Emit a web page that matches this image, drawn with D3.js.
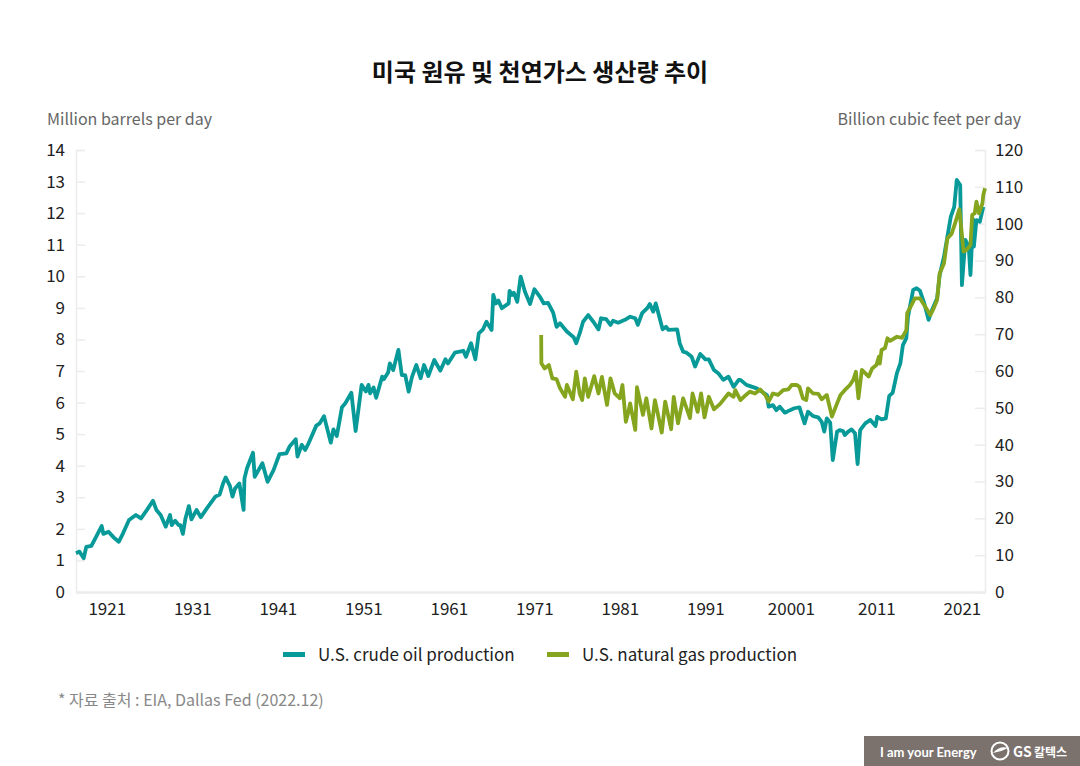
<!DOCTYPE html>
<html><head><meta charset="utf-8">
<script src="https://cdn.jsdelivr.net/npm/d3@7"></script>
<style>
html,body{margin:0;padding:0;background:#fff;}
svg{display:block;font-family:"Noto Sans CJK KR","Noto Sans",sans-serif;}
</style></head>
<body><svg id="c" width="1080" height="766"></svg>
<script>
const title = "미국 원유 및 천연가스 생산량 추이";
const leftAxisTitle = "Million barrels per day";
const rightAxisTitle = "Billion cubic feet per day";
const source = "* 자료 출처 : EIA, Dallas Fed (2022.12)";
const seriesNames = ["U.S. crude oil production", "U.S. natural gas production"];
const xTickValues = [1921,1931,1941,1951,1961,1971,1981,1991,2001,2011,2021];
const xTickLabels = ["1921","1931","1941","1951","1961","1971","1981","1991","20001","2011","2021"];
const leftTicks = [0,1,2,3,4,5,6,7,8,9,10,11,12,13,14];
const rightTicks = [0,10,20,30,40,50,60,70,80,90,100,110,120];

const oilYears = [1917.4,1917.8,1918.3,1918.6,1919.2,1920.4,1920.6,1921.2,1921.8,1922.4,1922.9,1923.6,1924.4,1925.0,1925.7,1926.4,1926.8,1927.3,1927.9,1928.4,1928.6,1929.0,1929.4,1929.6,1929.9,1930.2,1930.6,1930.9,1931.5,1932.0,1932.7,1933.7,1934.2,1934.6,1934.9,1935.4,1935.7,1936.0,1936.5,1937.0,1937.1,1937.4,1938.1,1938.3,1939.2,1939.8,1940.5,1941.2,1942.0,1942.4,1943.1,1943.3,1943.8,1944.2,1944.6,1945.5,1945.9,1946.4,1947.2,1947.5,1947.9,1948.5,1948.9,1949.6,1950.1,1950.8,1951.3,1951.6,1951.8,1952.2,1952.5,1953.2,1953.4,1953.9,1954.1,1954.5,1955.1,1955.5,1955.9,1956.3,1956.7,1957.2,1957.7,1958.1,1958.6,1959.3,1960.0,1960.6,1960.9,1961.7,1962.7,1963.0,1963.6,1964.1,1964.5,1965.0,1965.4,1966.0,1966.2,1966.5,1966.8,1967.2,1968.0,1968.1,1968.4,1968.6,1969.0,1969.4,1969.9,1970.5,1971.0,1971.7,1972.1,1972.6,1973.2,1973.6,1974.0,1974.8,1975.6,1975.9,1976.3,1976.7,1977.3,1977.9,1978.5,1978.8,1979.4,1979.9,1980.2,1980.8,1981.6,1982.2,1982.8,1983.1,1983.6,1984.2,1984.5,1984.9,1985.2,1986.0,1986.4,1986.7,1987.7,1988.0,1988.4,1988.8,1989.4,1989.8,1990.4,1991.0,1991.4,1992.0,1992.5,1993.1,1993.7,1994.3,1994.9,1995.1,1995.8,1997.0,1998.2,1998.4,1998.9,1999.3,1999.7,2000.3,2000.9,2001.4,2002.0,2002.6,2003.0,2003.6,2004.2,2004.6,2004.9,2005.2,2005.6,2005.9,2006.4,2006.7,2007.1,2007.3,2007.7,2008.1,2008.5,2008.8,2009.1,2009.7,2010.3,2010.9,2011.1,2011.6,2012.1,2012.5,2012.9,2013.4,2013.8,2014.1,2014.5,2014.7,2015.3,2015.7,2016.1,2016.6,2017.1,2017.5,2018.1,2018.4,2018.9,2019.3,2019.7,2020.1,2020.4,2020.8,2021.0,2021.4,2021.8,2022.0,2022.3,2022.4,2022.7,2023.1,2023.5];
const oilValues = [1.23,1.28,1.07,1.43,1.46,2.09,1.84,1.91,1.73,1.59,1.86,2.28,2.44,2.33,2.60,2.89,2.60,2.44,2.07,2.44,2.12,2.26,2.12,2.12,1.84,2.33,2.72,2.30,2.60,2.37,2.65,3.02,3.09,3.44,3.63,3.36,3.02,3.28,3.44,2.60,3.60,3.92,4.41,3.65,4.08,3.49,3.86,4.37,4.39,4.62,4.84,4.29,4.66,4.50,4.71,5.27,5.34,5.57,4.73,5.15,4.94,5.85,5.98,6.31,5.10,6.56,6.35,6.56,6.29,6.48,6.15,6.82,6.74,6.95,7.24,7.03,7.67,6.87,6.87,6.35,6.82,7.19,6.77,7.19,6.84,7.35,7.01,7.37,7.24,7.58,7.64,7.45,7.88,7.37,8.19,8.32,8.56,8.30,9.41,9.14,9.23,8.99,9.14,9.54,9.41,9.48,9.19,9.99,9.51,9.12,9.59,9.33,9.14,9.16,8.85,8.40,8.51,8.25,8.07,7.88,8.19,8.56,8.77,8.56,8.32,8.67,8.64,8.46,8.59,8.53,8.62,8.72,8.67,8.46,8.83,8.99,9.12,8.88,9.14,8.32,8.40,8.30,8.32,7.88,7.61,7.58,7.45,7.14,7.54,7.37,7.37,7.03,6.93,6.72,6.82,6.50,6.72,6.72,6.56,6.45,6.24,5.87,5.92,5.76,5.87,5.68,5.76,5.82,5.85,5.34,5.71,5.57,5.53,5.39,5.08,5.50,5.36,4.18,5.08,5.13,5.10,4.97,5.08,5.15,5.03,4.05,5.13,5.34,5.45,5.26,5.55,5.47,5.50,6.21,6.31,6.93,7.24,7.82,8.04,8.72,9.57,9.62,9.54,9.14,8.62,8.93,9.30,10.04,10.62,11.25,11.89,12.20,13.05,12.89,9.72,11.15,10.94,10.04,11.81,10.94,11.78,11.73,12.20];

const gasYears = [1971.8,1971.82,1972.2,1972.7,1973.1,1973.6,1974.0,1974.6,1974.8,1975.3,1975.5,1975.9,1976.3,1976.6,1976.9,1977.3,1978.0,1978.5,1978.9,1979.5,1979.9,1980.4,1981.0,1981.3,1981.7,1982.0,1982.2,1982.8,1983.0,1983.7,1984.1,1984.7,1985.1,1985.9,1986.3,1987.0,1987.3,1987.8,1988.4,1989.2,1989.5,1990.1,1990.5,1990.9,1991.4,1992.0,1992.7,1993.7,1994.3,1994.5,1995.1,1995.5,1996.2,1996.8,1997.4,1998.0,1998.4,1998.9,1999.5,2000.1,2000.7,2001.1,2001.7,2002.0,2002.4,2002.8,2003.0,2003.6,2004.2,2004.6,2005.2,2005.8,2006.4,2006.8,2007.3,2007.9,2008.3,2008.6,2008.9,2009.3,2010.1,2010.5,2011.0,2011.3,2011.4,2011.6,2012.0,2012.3,2012.6,2013.4,2014.0,2014.5,2014.6,2015.1,2015.5,2016.1,2016.7,2017.3,2017.7,2018.1,2018.4,2018.9,2019.3,2019.8,2020.2,2020.7,2021.2,2021.6,2022.0,2022.2,2022.5,2022.7,2023.0,2023.4,2023.5,2023.7];
const gasValues = [69.8,62.1,60.7,61.6,58.0,57.8,55.3,53.0,56.2,53.5,52.3,59.8,53.9,52.1,58.0,53.0,58.6,53.9,58.4,50.8,58.0,53.9,52.6,56.2,46.2,48.9,51.2,44.0,55.6,48.1,52.6,44.4,52.1,43.3,51.7,44.2,53.0,45.8,52.6,47.2,53.9,48.9,53.9,47.4,53.0,49.6,51.0,53.9,53.0,54.8,52.1,53.0,54.4,53.9,55.0,53.5,51.7,53.9,53.5,54.8,55.0,56.2,56.2,55.7,52.6,52.1,55.3,53.9,53.8,52.3,53.5,47.6,51.2,53.5,54.8,56.2,57.6,59.8,52.6,60.3,58.5,60.7,61.6,63.9,62.0,65.7,66.2,68.9,68.2,69.3,69.0,71.1,75.7,77.9,79.7,79.7,77.5,75.2,77.0,79.3,86.5,89.2,96.0,97.3,100.1,103.9,92.4,93.0,94.2,102.4,102.8,106.0,102.8,105.5,107.8,109.6];

const colors = ["#079a98", "#86a51f"];

const svg = d3.select("#c");
const L = 76, R = 985, T = 150, B = 592;
const x = d3.scaleLinear().domain([1917.4, 2023.7]).range([L, R]);
const yL = d3.scaleLinear().domain([0, 14]).range([B, T]);
const yR = d3.scaleLinear().domain([0, 120]).range([B, T]);

// title
svg.append("text").attr("x", 540).attr("y", 81).attr("text-anchor", "middle")
  .attr("font-size", 24).attr("font-weight", 700).attr("fill", "#111").text(title);
svg.append("text").attr("x", 47).attr("y", 125).attr("font-size", 16).attr("fill", "#666").text(leftAxisTitle);
svg.append("text").attr("x", 1021).attr("y", 125).attr("text-anchor", "end").attr("font-size", 16).attr("fill", "#666").text(rightAxisTitle);

// left axis
const gL = svg.append("g").attr("transform", `translate(${L},0)`)
  .call(d3.axisLeft(yL).tickValues(leftTicks).tickSize(-9).tickPadding(11));
gL.select(".domain").attr("stroke", "#ececec").attr("stroke-width", 1.5);
gL.selectAll(".tick line").attr("stroke", "#ececec").attr("stroke-width", 1.5);
gL.selectAll(".tick text").attr("font-size", 17).attr("fill", "#222").attr("font-family", "Noto Sans CJK KR");

// right axis
const gR = svg.append("g").attr("transform", `translate(${R},0)`)
  .call(d3.axisRight(yR).tickValues(rightTicks).tickSize(-10).tickPadding(10));
gR.select(".domain").attr("stroke", "#ececec").attr("stroke-width", 1.5);
gR.selectAll(".tick line").attr("stroke", "#ececec").attr("stroke-width", 1.5);
gR.selectAll(".tick text").attr("font-size", 17).attr("fill", "#222").attr("font-family", "Noto Sans CJK KR");

// bottom axis
const gB = svg.append("g").attr("transform", `translate(0,${B})`)
  .call(d3.axisBottom(x).tickValues(xTickValues).tickFormat((d, i) => xTickLabels[i]).tickSize(0).tickPadding(11));
gB.select(".domain").attr("stroke", "#ececec").attr("stroke-width", 2.5);
gB.selectAll(".tick text").attr("font-size", 17).attr("fill", "#222").attr("font-family", "Noto Sans CJK KR");

// lines
const oil = oilYears.map((d, i) => [d, oilValues[i]]);
const gas = gasYears.map((d, i) => [d, gasValues[i]]);
svg.append("path").datum(oil).attr("fill", "none").attr("stroke", colors[0]).attr("stroke-width", 3.8)
  .attr("stroke-linejoin", "round").attr("d", d3.line().x(d => x(d[0])).y(d => yL(d[1])));
svg.append("path").datum(gas).attr("fill", "none").attr("stroke", colors[1]).attr("stroke-width", 3.8)
  .attr("stroke-linejoin", "round").attr("d", d3.line().x(d => x(d[0])).y(d => yR(d[1])));

// legend
const legX = [283, 547];
seriesNames.forEach((n, i) => {
  svg.append("rect").attr("x", legX[i]).attr("y", 652).attr("width", 22).attr("height", 5).attr("fill", colors[i]);
  svg.append("text").attr("x", legX[i] + 35).attr("y", 661).attr("font-size", 17).attr("fill", "#222").text(n);
});

// source
svg.append("text").attr("x", 58).attr("y", 706).attr("font-size", 16).attr("fill", "#888").text(source);

// logo banner
svg.append("rect").attr("x", 864).attr("y", 736).attr("width", 216).attr("height", 30).attr("fill", "#7b726e");
svg.append("text").attr("x", 880).attr("y", 757).attr("font-size", 13).attr("font-weight", 700)
  .attr("fill", "#fff").attr("font-family", "Lato, sans-serif").text("I am your Energy");
svg.append("circle").attr("cx", 1000).attr("cy", 751).attr("r", 8.5).attr("fill", "none").attr("stroke", "#fff").attr("stroke-width", 2);
svg.append("path").attr("d", "M993,753 Q1000,745 1008,748 Q1001,752 993,753 Z").attr("fill", "#fff");
svg.append("text").attr("x", 1013).attr("y", 757).attr("font-size", 14).attr("font-weight", 700)
  .attr("fill", "#fff").text("GS");
svg.append("text").attr("x", 1034).attr("y", 757).attr("font-size", 12).attr("font-weight", 700)
  .attr("fill", "#fff").text("칼텍스");
</script></body></html>
